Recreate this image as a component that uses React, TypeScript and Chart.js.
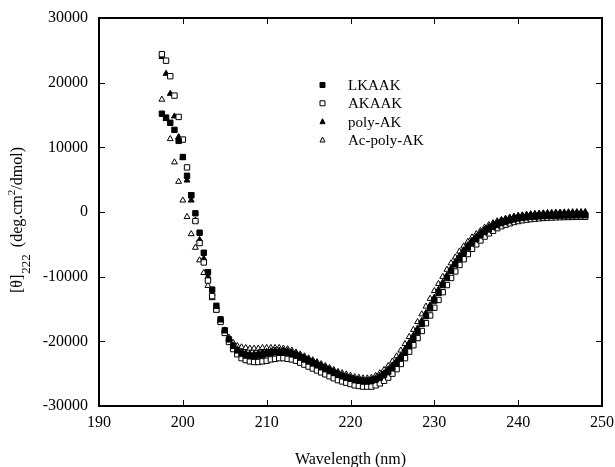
import React, { useEffect, useRef } from "react";
import { Chart, registerables } from "chart.js";

Chart.register(...registerables);

const wavelengths = [
  197.5, 198, 198.5, 199, 199.5, 200, 200.5, 201, 201.5, 202, 202.5, 203, 203.5, 204, 204.5, 205, 205.5, 206, 206.5, 207,
  207.5, 208, 208.5, 209, 209.5, 210, 210.5, 211, 211.5, 212, 212.5, 213, 213.5, 214, 214.5, 215, 215.5, 216, 216.5, 217,
  217.5, 218, 218.5, 219, 219.5, 220, 220.5, 221, 221.5, 222, 222.5, 223, 223.5, 224, 224.5, 225, 225.5, 226, 226.5, 227,
  227.5, 228, 228.5, 229, 229.5, 230, 230.5, 231, 231.5, 232, 232.5, 233, 233.5, 234, 234.5, 235, 235.5, 236, 236.5, 237,
  237.5, 238, 238.5, 239, 239.5, 240, 240.5, 241, 241.5, 242, 242.5, 243, 243.5, 244, 244.5, 245, 245.5, 246, 246.5, 247,
  247.5, 248,
];

const lkaak = [
  15200, 14600, 13800, 12700, 11000, 8500, 5600, 2600, -200, -3200, -6300, -9300, -12000, -14500, -16600, -18300, -19700, -20700, -21400, -21900,
  -22200, -22300, -22300, -22200, -22100, -21900, -21800, -21700, -21700, -21700, -21800, -22000, -22200, -22500, -22800, -23100, -23400, -23700, -24000, -24300,
  -24600, -24900, -25200, -25400, -25600, -25800, -26000, -26100, -26200, -26200, -26100, -25900, -25600, -25200, -24700, -24100, -23400, -22600, -21700, -20700,
  -19600, -18500, -17300, -16100, -14900, -13700, -12500, -11300, -10200, -9100, -8100, -7200, -6300, -5500, -4800, -4200, -3600, -3100, -2700, -2300,
  -2000, -1700, -1500, -1300, -1150, -1000, -900, -820, -760, -710, -670, -640, -610, -590, -570, -550, -540, -530, -520, -510,
  -500, -500,
];

const akaak = [
  24400, 23400, 21000, 18000, 14700, 11200, 6900, 2600, -1400, -4800, -7800, -10600, -13000, -15100, -17000, -18700, -20100, -21200, -22000, -22600,
  -22900, -23100, -23200, -23200, -23100, -23000, -22800, -22700, -22600, -22600, -22700, -22800, -23000, -23300, -23600, -23900, -24200, -24500, -24800, -25100,
  -25400, -25700, -26000, -26200, -26400, -26600, -26800, -26900, -27000, -27000, -27000, -26800, -26500, -26100, -25600, -25000, -24300, -23500, -22600, -21600,
  -20600, -19500, -18400, -17200, -16000, -14800, -13600, -12400, -11300, -10200, -9200, -8200, -7300, -6500, -5700, -5000, -4400, -3800, -3300, -2900,
  -2500, -2200, -1950, -1750, -1550, -1400, -1280, -1180, -1100, -1030, -970, -920, -880, -850, -820, -800, -780, -770, -760, -750,
  -740, -740,
];

const polyAK = [
  24000, 21400, 18300, 14800, 11600, 8400, 4900, 1800, -1300, -4300, -7200, -10000, -12600, -14800, -16700, -18300, -19600, -20600, -21200, -21600,
  -21800, -21900, -21900, -21800, -21700, -21600, -21500, -21400, -21400, -21400, -21500, -21700, -21900, -22200, -22500, -22800, -23100, -23400, -23700, -24000,
  -24300, -24600, -24900, -25200, -25400, -25600, -25800, -25900, -26000, -26000, -25900, -25700, -25300, -24900, -24300, -23700, -23000, -22200, -21200, -20200,
  -19100, -18000, -16800, -15600, -14400, -13200, -12000, -10900, -9800, -8700, -7700, -6800, -5900, -5100, -4400, -3800, -3200, -2700, -2300, -1900,
  -1600, -1300, -1100, -900, -750, -600, -500, -400, -330, -270, -220, -180, -140, -110, -80, -60, -40, -20, -10, 0,
  10, 20,
];

const acPolyAK = [
  17400, 14400, 11300, 7700, 4700, 1800, -750, -3400, -5500, -7450, -9400, -11400, -13300, -15200, -16900, -18300, -19400, -20200, -20700, -20900,
  -21000, -21100, -21100, -21100, -21000, -21000, -21000, -21000, -21000, -21100, -21200, -21400, -21700, -22000, -22300, -22600, -22900, -23200, -23500, -23800,
  -24100, -24400, -24700, -24900, -25100, -25300, -25500, -25600, -25700, -25700, -25600, -25300, -24900, -24400, -23800, -23100, -22300, -21400, -20400, -19300,
  -18200, -17000, -15800, -14600, -13400, -12200, -11100, -10000, -8900, -7900, -7000, -6100, -5300, -4600, -3900, -3400, -2900, -2400, -2000, -1700,
  -1400, -1200, -1000, -850, -700, -600, -520, -450, -400, -360, -330, -300, -280, -260, -250, -240, -230, -220, -210, -200,
  -200, -200,
];

const seriesNames = ["LKAAK", "AKAAK", "poly-AK", "Ac-poly-AK"];
const xTickValues = [190, 200, 210, 220, 230, 240, 250];
const yTickValues = [-30000, -20000, -10000, 0, 10000, 20000, 30000];

const FONT = "'Liberation Serif', 'Times New Roman', serif";

type Marker = { style: "rect" | "triangle"; filled: boolean };
const markers: Marker[] = [
  { style: "rect", filled: true },
  { style: "rect", filled: false },
  { style: "triangle", filled: true },
  { style: "triangle", filled: false },
];

function drawMarker(ctx: CanvasRenderingContext2D, m: Marker, x: number, y: number, s: number) {
  ctx.beginPath();
  if (m.style === "rect") {
    ctx.rect(x - s / 2, y - s / 2, s, s);
  } else {
    ctx.moveTo(x, y - s * 0.6);
    ctx.lineTo(x + s * 0.5, y + s * 0.4);
    ctx.lineTo(x - s * 0.5, y + s * 0.4);
    ctx.closePath();
  }
  ctx.fillStyle = m.filled ? "#000" : "#fff";
  ctx.fill();
  ctx.strokeStyle = "#000";
  ctx.lineWidth = 1;
  ctx.stroke();
}

const framePlugin = {
  id: "frame",
  afterDraw(chart: any) {
    const ctx: CanvasRenderingContext2D = chart.ctx;
    const { left, right, top, bottom } = chart.chartArea;
    const xs = chart.scales.x;
    const ys = chart.scales.y;
    ctx.save();
    ctx.strokeStyle = "#000";
    ctx.lineWidth = 2;
    ctx.strokeRect(left, top, right - left, bottom - top);
    ctx.lineWidth = 1;
    ctx.beginPath();
    const tl = 6;
    xTickValues.forEach((v) => {
      const px = Math.round(xs.getPixelForValue(v)) + 0.5;
      ctx.moveTo(px, bottom);
      ctx.lineTo(px, bottom - tl);
      ctx.moveTo(px, top);
      ctx.lineTo(px, top + tl);
    });
    yTickValues.forEach((v) => {
      const py = Math.round(ys.getPixelForValue(v)) + 0.5;
      ctx.moveTo(left, py);
      ctx.lineTo(left + tl, py);
      ctx.moveTo(right, py);
      ctx.lineTo(right - tl, py);
    });
    ctx.stroke();

    // x title
    ctx.fillStyle = "#000";
    ctx.font = `16px ${FONT}`;
    ctx.textAlign = "center";
    ctx.textBaseline = "alphabetic";
    ctx.fillText("Wavelength (nm)", (left + right) / 2, 464);

    // y title (rotated)
    ctx.save();
    ctx.translate(22, 293);
    ctx.rotate(-Math.PI / 2);
    ctx.textAlign = "left";
    let cx = 0;
    const part = (t: string, size: number, dy: number) => {
      ctx.font = `${size}px ${FONT}`;
      ctx.fillText(t, cx, dy);
      cx += ctx.measureText(t).width;
    };
    part("[\u03B8]", 16, 0);
    cx += 1;
    part("222", 13, 8);
    cx += 7;
    part("(deg.cm", 16, 0);
    part("2", 11, -7);
    part("/dmol)", 16, 0);
    ctx.restore();

    // legend
    const rowsY = [85, 103.3, 121.7, 140];
    ctx.font = `15px ${FONT}`;
    ctx.textAlign = "left";
    ctx.textBaseline = "middle";
    seriesNames.forEach((name, i) => {
      drawMarker(ctx, markers[i], 322.5, rowsY[i], 5);
      ctx.fillStyle = "#000";
      ctx.fillText(name, 348, rowsY[i] + 1);
    });
    ctx.restore();
  },
};

export default function App() {
  const ref = useRef<HTMLCanvasElement>(null);
  useEffect(() => {
    document.body.style.margin = "0";
    const mk = (arr: number[]) => wavelengths.map((x, i) => ({ x, y: arr[i] }));
    const allSeries = [lkaak, akaak, polyAK, acPolyAK];
    const datasets = allSeries.map((arr, i) => {
      const m = markers[i];
      return {
        label: seriesNames[i],
        data: mk(arr),
        pointStyle: m.style,
        pointRadius: m.style === "rect" ? 3.8 : 3.4,
        pointBackgroundColor: m.filled ? "#000" : "#fff",
        pointBorderColor: "#000",
        pointBorderWidth: 1,
        showLine: false,
      };
    });
    const chart = new Chart(ref.current as HTMLCanvasElement, {
      type: "scatter",
      data: { datasets: datasets as any },
      options: {
        responsive: false,
        animation: false,
        layout: { padding: { top: 18, right: 13, left: 0, bottom: 0 } },
        plugins: { legend: { display: false }, tooltip: { enabled: false } },
        scales: {
          x: {
            type: "linear",
            min: 190,
            max: 250,
            grid: { display: false, drawTicks: false },
            border: { display: false },
            ticks: {
              stepSize: 10,
              color: "#000",
              font: { family: FONT, size: 16 },
              padding: 7,
              maxRotation: 0,
              callback: (v: any) => String(v),
            },
            afterFit: (s: any) => {
              s.height = 61;
              s.paddingLeft = 0;
              s.paddingRight = 0;
            },
          },
          y: {
            type: "linear",
            min: -30000,
            max: 30000,
            grid: { display: false, drawTicks: false },
            border: { display: false },
            ticks: {
              stepSize: 10000,
              color: "#000",
              font: { family: FONT, size: 16 },
              padding: 11,
              callback: (v: any) => String(v),
            },
            afterFit: (s: any) => {
              s.width = 99;
              s.paddingTop = 0;
              s.paddingBottom = 0;
            },
          },
        },
      },
      plugins: [framePlugin],
    });
    return () => chart.destroy();
  }, []);
  return <canvas ref={ref} width={615} height={467} style={{ display: "block" }} />;
}
